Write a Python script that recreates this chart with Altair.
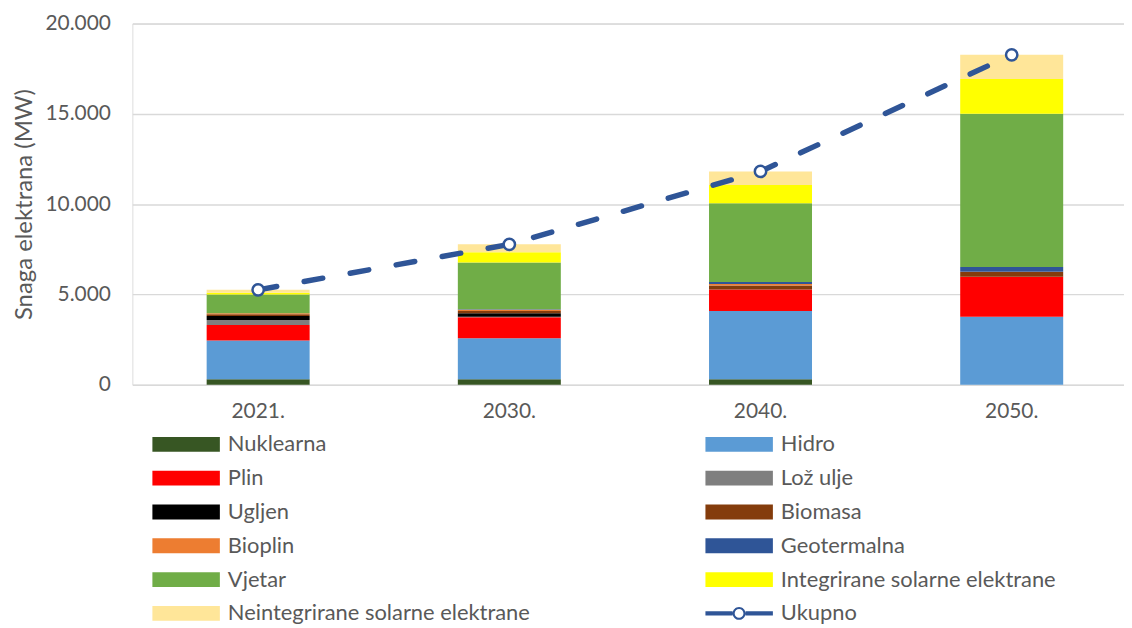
import altair as alt
import pandas as pd

years = ["2021.", "2030.", "2040.", "2050."]
sources = ["Nuklearna", "Hidro", "Plin", "Lož ulje", "Ugljen", "Biomasa",
           "Bioplin", "Geotermalna", "Vjetar",
           "Integrirane solarne elektrane", "Neintegrirane solarne elektrane"]
nuklearna = [300, 300, 300, 0]
hidro = [2140, 2270, 3780, 3760]
plin = [865, 1160, 1190, 2210]
loz_ulje = [275, 30, 0, 0]
ugljen = [220, 190, 0, 0]
biomasa = [100, 130, 220, 270]
bioplin = [50, 70, 90, 20]
geotermalna = [10, 20, 100, 260]
vjetar = [1040, 2590, 4370, 8480]
integrirane = [85, 570, 1010, 1930]
neintegrirane = [165, 440, 750, 1340]
ukupno = [5250, 7770, 11810, 18270]

series = [nuklearna, hidro, plin, loz_ulje, ugljen, biomasa, bioplin,
          geotermalna, vjetar, integrirane, neintegrirane]
colors = ["#375623", "#5B9BD5", "#FF0000", "#7F7F7F", "#000000", "#843C0C",
          "#ED7D31", "#2F5597", "#70AD47", "#FFFF00", "#FFE699", "#2F5597"]

rows = []
for i, (name, vals) in enumerate(zip(sources, series)):
    for y, v in zip(years, vals):
        rows.append({"godina": y, "izvor": name, "snaga": v, "red": i})
df = pd.DataFrame(rows)
tot = pd.DataFrame({"godina": years, "ukupno": ukupno})

FONT = "Lato"
GREY = "#595959"

rect_path = "M-1,-0.22L1,-0.22L1,0.22L-1,0.22Z"
ring_path = ("M-1,-0.065L-0.19,-0.065L-0.19,0.065L-1,0.065Z"
             "M0.19,-0.065L1,-0.065L1,0.065L0.19,0.065Z"
             "M0.19,0A0.19,0.19 0 1,0 -0.19,0A0.19,0.19 0 1,0 0.19,0Z"
             "M0.13,0A0.13,0.13 0 1,1 -0.13,0A0.13,0.13 0 1,1 0.13,0Z")

xscale = alt.Scale(domain=years, paddingInner=0.59, paddingOuter=0.269, align=0.55)
yscale = alt.Scale(domain=[0, 20000], nice=False)

x_axis = alt.Axis(title=None, domain=False, ticks=False, labelFont=FONT,
                  labelFontSize=21, labelColor=GREY, labelPadding=16, labelAngle=0)
y_axis = alt.Axis(title="Snaga elektrana (MW)", values=[0, 5000, 10000, 15000, 20000],
                  domain=False, ticks=False, labelFont=FONT, labelFontSize=21,
                  labelColor=GREY, labelPadding=22, gridColor="#D9D9D9", gridWidth=1.5,
                  titleFont=FONT, titleFontSize=24, titleFontWeight="normal",
                  titleColor=GREY, titlePadding=9,
                  labelExpr="replace(format(datum.value, ',d'), ',', '.')")

legend = alt.Legend(
    title=None, orient="none", legendX=20, legendY=413, columns=2, direction="horizontal",
    gridAlign="all", columnPadding=176, rowPadding=12, clipHeight=20,
    symbolSize=4624, symbolStrokeWidth=0, labelOffset=8,
    symbolType={"expr": f"datum.value === 'Ukupno' ? '{ring_path}' : '{rect_path}'"},
    labelFont=FONT, labelFontSize=22, labelColor=GREY, labelLimit=0,
    padding=0,
)

bars = alt.Chart(df).mark_bar().encode(
    x=alt.X("godina:N", scale=xscale, axis=x_axis, sort=years),
    y=alt.Y("snaga:Q", scale=yscale, axis=y_axis, stack="zero"),
    color=alt.Color("izvor:N", scale=alt.Scale(domain=sources + ["Ukupno"], range=colors),
                    legend=legend),
    order=alt.Order("red:Q", sort="ascending"),
)

line = alt.Chart(tot).mark_line(color="#2F5597", strokeWidth=5.5, strokeDash=[19, 28],
                                strokeCap="round").encode(
    x=alt.X("godina:N", scale=xscale, sort=years),
    y=alt.Y("ukupno:Q", scale=yscale),
)
pts = alt.Chart(tot).mark_point(shape="circle", filled=True, fill="white", stroke="#2F5597",
                                strokeWidth=2.5, size=130, opacity=1).encode(
    x=alt.X("godina:N", scale=xscale, sort=years),
    y=alt.Y("ukupno:Q", scale=yscale),
)

chart = alt.layer(bars, line, pts).properties(
    width=997, height=363,
    padding={"left": 125, "top": 14, "right": 0, "bottom": 243},
    autosize=alt.AutoSizeParams(type="none"),
).configure_view(stroke=None).configure(background="white")

chart.save("out.html", embed_options={"renderer": "svg", "actions": False})
